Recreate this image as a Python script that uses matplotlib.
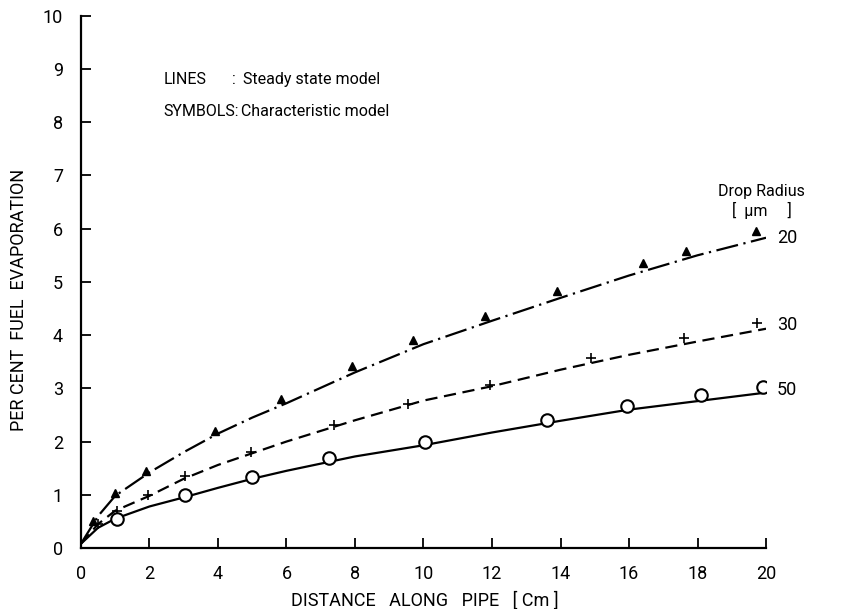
import matplotlib
matplotlib.use("Agg")
import matplotlib.pyplot as plt

plt.rcParams["font.family"] = ["Roboto", "DejaVu Sans"]

# --- Steady state model (lines) ---
x_line = [0, 0.5, 1, 2, 3, 4, 5, 6, 8, 10, 12, 14, 16, 18, 20]
line_r20 = [0.08, 0.60, 0.98, 1.42, 1.80, 2.15, 2.45, 2.72, 3.30, 3.83, 4.27, 4.70, 5.12, 5.50, 5.83]
line_r30 = [0.08, 0.45, 0.70, 0.98, 1.30, 1.56, 1.78, 2.00, 2.40, 2.77, 3.04, 3.35, 3.63, 3.88, 4.12]
line_r50 = [0.08, 0.38, 0.55, 0.78, 0.95, 1.13, 1.30, 1.45, 1.72, 1.93, 2.17, 2.39, 2.60, 2.76, 2.92]

# --- Characteristic model (symbols) ---
x_r20 = [0.35, 1.0, 1.9, 3.9, 5.85, 7.9, 9.7, 11.8, 13.9, 16.4, 17.65, 19.7]
y_r20 = [0.50, 1.03, 1.45, 2.20, 2.80, 3.42, 3.90, 4.35, 4.83, 5.35, 5.58, 5.95]
x_r30 = [0.5, 1.05, 1.95, 3.05, 4.95, 7.4, 9.55, 11.95, 14.9, 17.6, 19.75]
y_r30 = [0.45, 0.70, 1.00, 1.35, 1.80, 2.32, 2.70, 3.06, 3.57, 3.94, 4.22]
x_r50 = [1.05, 3.05, 5.0, 7.25, 10.05, 13.6, 15.95, 18.1, 19.9]
y_r50 = [0.55, 1.00, 1.34, 1.69, 2.00, 2.41, 2.66, 2.87, 3.03]

radius_labels = ["20", "30", "50"]

fig = plt.figure(figsize=(8.54, 6.09), dpi=100)
ax = fig.add_axes([0.0948, 0.1002, 0.8022, 0.8738])

ax.plot(x_line, line_r20, color="black", lw=1.6, linestyle=(0, (10, 2.5, 1, 2.5)))
ax.plot(x_line, line_r30, color="black", lw=1.6, linestyle=(0, (5.5, 3)))
ax.plot(x_line, line_r50, color="black", lw=1.6)

ax.plot(x_r20, y_r20, ls="none", marker="^", ms=5.5, color="black")
ax.plot(x_r30, y_r30, ls="none", marker="+", ms=7, mew=1.2, color="black")
ax.plot(x_r50, y_r50, ls="none", marker="o", ms=9, mew=1.5,
        markerfacecolor="white", markeredgecolor="black")

# radius labels at the line ends
for lab, ys, dy in zip(radius_labels, [line_r20, line_r30, line_r50], [0, 3, 2]):
    ax.annotate(lab, (x_line[-1], ys[-1]), xytext=(8, dy), textcoords="offset points",
                ha="left", va="center", fontsize=13, annotation_clip=False)

ax.text(19.88, 6.69, "Drop Radius", ha="center", va="center", fontsize=11.5, clip_on=False)
ax.text(19.88, 6.35, "[  μm     ]", ha="center", va="center", fontsize=11.5, clip_on=False)

# legend-like notes, colons lined up
sym = ax.text(0.12, 0.82, "SYMBOLS:", transform=ax.transAxes, fontsize=11.5, va="center")
lin = ax.text(0.12, 0.88, "LINES", transform=ax.transAxes, fontsize=11.5, va="center")
ax.annotate(":", xy=(1, 0.5), xycoords=(sym, lin), xytext=(-2, 0), textcoords="offset points",
            ha="right", va="center", fontsize=11.5)
ax.annotate("Steady state model", xy=(1, 0.5), xycoords=(sym, lin), xytext=(3, 0),
            textcoords="offset points", va="center", fontsize=11.5)
ax.annotate("Characteristic model", xy=(1, 0.5), xycoords=sym, xytext=(2, 0),
            textcoords="offset points", va="center", fontsize=11.5)

ax.set_xlim(0, 20)
ax.set_ylim(0, 10)
ax.set_xticks(range(0, 21, 2))
ax.set_yticks(range(0, 11))
ax.spines["top"].set_visible(False)
ax.spines["right"].set_visible(False)
ax.spines["left"].set_linewidth(1.6)
ax.spines["bottom"].set_linewidth(1.6)
ax.tick_params(axis="both", direction="in", length=7, width=1.3, labelsize=13)
ax.tick_params(axis="x", pad=12)
ax.tick_params(axis="y", pad=13)

ax.set_xlabel("DISTANCE   ALONG   PIPE   [ Cm ]", fontsize=13)
ax.set_ylabel("PER CENT  FUEL  EVAPORATION", fontsize=13)
ax.xaxis.set_label_coords(0.502, -0.081)
ax.yaxis.set_label_coords(-0.078, 0.466)

fig.savefig("out.png", dpi=100)
